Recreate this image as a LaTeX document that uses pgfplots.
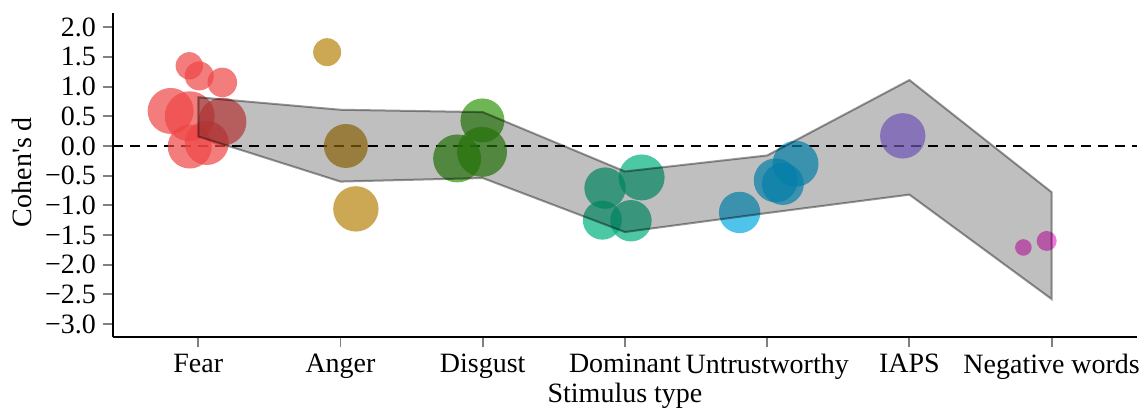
\documentclass[border=0pt]{standalone}
\usepackage{fontspec}
\setmainfont{Liberation Serif}
\usepackage{pgfplots}
\pgfplotsset{compat=1.18}
\definecolor{cFear}{RGB}{238,69,69}
\definecolor{cAnger}{RGB}{183,131,12}
\definecolor{cDisgust}{RGB}{48,150,12}
\definecolor{cDominant}{RGB}{0,176,126}
\definecolor{cUntrust}{RGB}{5,169,226}
\definecolor{cIAPS}{RGB}{148,112,240}
\definecolor{cNeg}{RGB}{240,60,210}
\pgfplotsset{bub/.style={scatter, only marks, mark=*,
  scatter/use mapped color={draw=#1, fill=#1, fill opacity=0.7, draw opacity=0},
  visualization depends on={\thisrow{r}*0.5 \as \rad},
  scatter/@pre marker code/.append style={/tikz/mark size=\rad pt}}}
\begin{document}
\begin{tikzpicture}
\begin{axis}[
  set layers,
  x=71.165pt, y=29.7pt,
  xmin=-0.6, xmax=6.6, ymin=-3.22, ymax=2.24,
  axis x line*=bottom, axis y line*=left,
  axis line style={black, line width=1.2pt, -},
  xtick={0,1,2,3,4,5,6},
  xticklabels={Fear,Anger,Disgust,Dominant,Untrustworthy,IAPS,Negative words},
  ytick={-3,-2.5,-2,-1.5,-1,-0.5,0,0.5,1,1.5,2},
  yticklabels={−3.0,−2.5,−2.0,−1.5,−1.0,−0.5,0.0,0.5,1.0,1.5,2.0},
  tick style={draw=gray, line width=1pt},
  tick align=outside, major tick length=5pt,
  ticklabel style={font=\fontsize{14}{16}\selectfont},
  xlabel={Stimulus type}, ylabel={Cohen\textquotesingle s d},
  xlabel style={font=\fontsize{14}{16}\selectfont, at={([yshift=-23pt]axis description cs:0.5,0)}, anchor=north, inner sep=0pt},
  ylabel style={font=\fontsize{14}{16}\selectfont, at={([shift={(-50.5pt,1.5pt)}]axis description cs:0,0.5)}, anchor=north, inner sep=0pt},
]
\addplot[bub=cFear] table {
x y r
-0.063 1.35 13.7
0.007 1.18 14.5
0.169 1.07 14.8
-0.194 0.59 23
-0.06 0.50 25
0.17 0.41 24
-0.06 -0.01 22
0.06 0.05 22
};
\addplot[bub=cAnger] table {
x y r
0.906 1.58 14
1.038 0.0 22
1.108 -1.06 22.7
};
\addplot[bub=cDisgust] table {
x y r
1.998 0.43 22
1.82 -0.21 24
1.995 -0.10 25
};
\addplot[bub=cDominant] table {
x y r
2.86 -0.71 20.7
3.117 -0.53 23
2.841 -1.25 19.5
3.042 -1.26 20.7
};
\addplot[bub=cUntrust] table {
x y r
3.806 -1.12 20.7
4.06 -0.58 22
4.11 -0.64 21
4.199 -0.30 23
};
\addplot[bub=cIAPS] table {
x y r
4.953 0.17 22.7
};
\addplot[bub=cNeg] table {
x y r
5.801 -1.71 8.3
5.965 -1.60 10
};
\addplot[black, line width=1.3pt, dash pattern=on 5pt off 3.5pt] coordinates {(-0.6,0) (6.6,0)};
\addplot[on layer=axis foreground, fill=black, fill opacity=0.25, draw=black, draw opacity=0.4, line width=1pt] coordinates {
(0,0.82) (1,0.61) (2,0.57) (3,-0.43) (4,-0.16) (5,1.11) (6,-0.78)
(6,-2.58) (5,-0.82) (4,-1.13) (3,-1.45) (2,-0.54) (1,-0.60) (0,0.16)
} -- cycle;
\end{axis}
\pgfresetboundingbox
\path[use as bounding box] ([shift={(-56.5pt,-36pt)}]current axis.south west) rectangle ([shift={(4.5pt,6.5pt)}]current axis.north east);
\end{tikzpicture}
\end{document}
